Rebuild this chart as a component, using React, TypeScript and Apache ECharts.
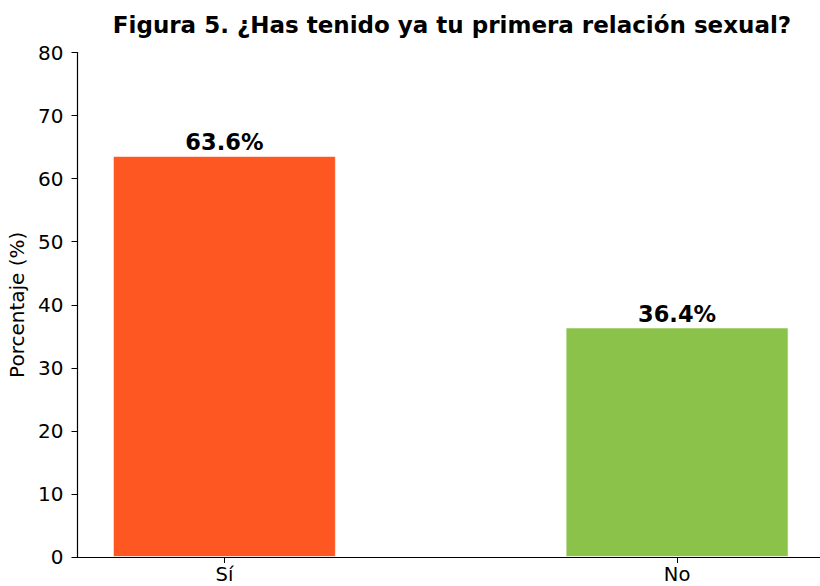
import React, { useEffect, useRef } from "react";
import * as echarts from "echarts";

const categories = ["Sí", "No"];
const values = [63.6, 36.4];
const barColors = ["#FF5722", "#8BC34A"];
const yTicks = { min: 0, max: 80, interval: 10 };
const titleText = "Figura 5. ¿Has tenido ya tu primera relación sexual?";
const yAxisTitle = "Porcentaje (%)";

const FONT = "DejaVu Sans";

export default function App() {
  const ref = useRef<HTMLDivElement>(null);
  useEffect(() => {
    if (!ref.current) return;
    const chart = echarts.init(ref.current, null, { renderer: "svg" });
    const positions = categories.map((_, i) => i);
    chart.setOption({
      animation: false,
      backgroundColor: "#ffffff",
      textStyle: { fontFamily: FONT },
      title: {
        text: titleText,
        left: 447,
        top: 8,
        textAlign: "center",
        textStyle: { fontFamily: FONT, fontSize: 23, fontWeight: "bold", color: "#000" },
      },
      grid: {
        left: 77.5,
        right: 0,
        top: 52.5,
        bottom: 29,
        containLabel: false,
        outerBoundsMode: "none",
      },
      xAxis: {
        type: "value",
        min: -0.3245,
        max: 1.3157,
        splitLine: { show: false },
        axisLine: { show: true, onZero: false, lineStyle: { color: "#000", width: 1.2 } },
        axisTick: { show: true, customValues: positions, length: 6, lineStyle: { color: "#000" } },
        axisLabel: {
          show: true,
          customValues: positions,
          margin: 7,
          fontSize: 19.5,
          lineHeight: 21,
          color: "#000",
          fontFamily: FONT,
          formatter: (v: number) => categories[Math.round(v)] ?? "",
        },
      },
      yAxis: {
        type: "value",
        min: yTicks.min,
        max: yTicks.max,
        interval: yTicks.interval,
        name: yAxisTitle,
        nameLocation: "middle",
        nameGap: 50,
        nameTextStyle: { fontFamily: FONT, fontSize: 20, color: "#000" },
        splitLine: { show: false },
        axisLine: { show: true, onZero: false, lineStyle: { color: "#000", width: 1.2 } },
        axisTick: { show: true, length: 6, lineStyle: { color: "#000" } },
        axisLabel: { margin: 14, fontSize: 20, color: "#000", fontFamily: FONT },
      },
      series: [
        {
          type: "bar",
          barWidth: 223,
          data: categories.map((c, i) => ({
            name: c,
            value: [i, values[i]],
            itemStyle: { color: barColors[i], borderColor: "rgba(255,255,255,0.6)", borderWidth: 1 },
          })),
          label: {
            show: true,
            position: "top",
            distance: 2,
            fontFamily: FONT,
            fontSize: 22.5,
            fontWeight: "bold",
            color: "#000",
            formatter: (p: any) => p.value[1].toFixed(1) + "%",
          },
        },
      ],
    });
    return () => chart.dispose();
  }, []);
  return (
    <div
      ref={ref}
      style={{ width: 820, height: 586, position: "fixed", left: 0, top: 0 }}
    />
  );
}
